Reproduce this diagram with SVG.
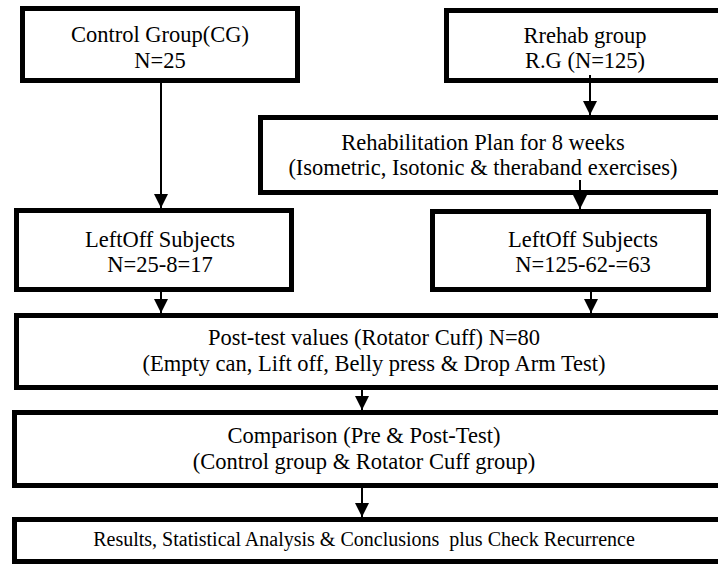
<svg xmlns="http://www.w3.org/2000/svg" width="718" height="565" viewBox="0 0 718 565">
<style>
.box{fill:#fff;stroke:#000;stroke-width:5}
.t{font-family:"Liberation Serif","Times New Roman",serif;font-size:22.5px;fill:#000;text-anchor:middle}
.s{font-size:20px;white-space:pre}
.c{stroke:#000;stroke-width:2;fill:none;marker-end:url(#ah)}
</style>
<defs>
<marker id="ah" markerUnits="userSpaceOnUse" markerWidth="14" markerHeight="14" refX="14" refY="7" orient="auto">
<path d="M0,0 L14,7 L0,14 Z" fill="#000"/>
</marker>
</defs>
<rect width="718" height="565" fill="#fff"/>
<g id="cg">
<rect class="box" x="22.5" y="8.5" width="275" height="72"/>
<text class="t" x="160" y="42">Control Group(CG)</text>
<text class="t" x="160" y="68">N=25</text>
</g>
<g id="rg">
<rect class="box" x="446.5" y="10.5" width="280" height="70"/>
<text class="t" x="585" y="43">Rrehab group</text>
<text class="t" x="585" y="68">R.G (N=125)</text>
</g>
<g id="plan">
<rect class="box" x="260.5" y="117.5" width="470" height="75"/>
<text class="t" x="483" y="150">Rehabilitation Plan for 8 weeks</text>
<text class="t" x="483" y="175">(Isometric, Isotonic &amp; theraband exercises)</text>
</g>
<g id="leftoff1">
<rect class="box" x="16.5" y="210.5" width="275" height="79"/>
<text class="t" x="160" y="247">LeftOff Subjects</text>
<text class="t" x="160" y="272">N=25-8=17</text>
</g>
<g id="leftoff2">
<rect class="box" x="432.5" y="211.5" width="276" height="78"/>
<text class="t" x="583" y="247">LeftOff Subjects</text>
<text class="t" x="583" y="272">N=125-62-=63</text>
</g>
<g id="post">
<rect class="box" x="16.5" y="315.5" width="715" height="72"/>
<text class="t" x="374" y="345">Post-test values (Rotator Cuff) N=80</text>
<text class="t" x="374" y="371">(Empty can, Lift off, Belly press &amp; Drop Arm Test)</text>
</g>
<g id="comparison">
<rect class="box" x="14.5" y="412.5" width="715" height="73"/>
<text class="t" x="364" y="443">Comparison (Pre &amp; Post-Test)</text>
<text class="t" x="364" y="469">(Control group &amp; Rotator Cuff group)</text>
</g>
<g id="results">
<rect class="box" x="14.5" y="519.5" width="715" height="42"/>
<text class="t s" x="364" y="546" xml:space="preserve">Results, Statistical Analysis &amp; Conclusions  plus Check Recurrence</text>
</g>
<g id="connectors">
<line class="c" x1="161" y1="83" x2="161" y2="208"/>
<line class="c" x1="590" y1="75" x2="590" y2="115"/>
<line class="c" x1="580" y1="180" x2="580" y2="209"/>
<line class="c" x1="161" y1="292" x2="161" y2="313"/>
<line class="c" x1="591" y1="292" x2="591" y2="313"/>
<line class="c" x1="362" y1="390" x2="362" y2="410"/>
<line class="c" x1="362" y1="488" x2="362" y2="517"/>
</g>
</svg>
